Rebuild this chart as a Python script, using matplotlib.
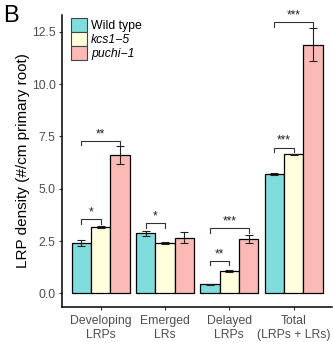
import matplotlib.pyplot as plt
from matplotlib.patches import Patch

plt.rcParams['font.family'] = ['Liberation Sans', 'DejaVu Sans']

# Data
groups = ['Developing\nLRPs', 'Emerged\nLRs', 'Delayed\nLRPs', 'Total\n(LRPs + LRs)']
genotypes = ['Wild type', 'kcs1\u22125', 'puchi\u22121']
wt_mean = [2.40, 2.87, 0.43, 5.71]
wt_err = [0.15, 0.12, 0.02, 0.05]
kcs_mean = [3.16, 2.39, 1.07, 6.65]
kcs_err = [0.05, 0.05, 0.07, 0.03]
puchi_mean = [6.62, 2.66, 2.60, 11.88]
puchi_err = [0.42, 0.25, 0.20, 0.78]
colors = ['#7FDEDD', '#FFFFDD', '#FBBAB6']

# significance brackets: (group, bar a, bar b, height, label)
sig = [
    (0, 0, 1, 3.54, '*'), (0, 0, 2, 7.29, '**'),
    (1, 0, 1, 3.35, '*'),
    (2, 0, 1, 1.56, '**'), (2, 0, 2, 3.11, '***'),
    (3, 0, 1, 6.97, '***'), (3, 0, 2, 12.97, '***'),
]

fig = plt.figure(figsize=(3.33, 3.42), dpi=100)
ax = fig.add_axes([0.186, 0.103, 0.812, 0.853])

width = 0.3
offsets = [-0.3, 0.0, 0.3]
xs = [i + 1 for i in range(len(groups))]
means = [wt_mean, kcs_mean, puchi_mean]
errs = [wt_err, kcs_err, puchi_err]

for k in range(3):
    pos = [x + offsets[k] for x in xs]
    ax.bar(pos, means[k], width=width, color=colors[k], edgecolor='black',
           linewidth=0.9, zorder=2)
    ax.errorbar(pos, means[k], yerr=errs[k], fmt='none', ecolor='#222222',
                elinewidth=0.8, capsize=3, capthick=0.8, zorder=3)

for g, a, b, h, lab in sig:
    x1 = xs[g] + offsets[a]
    x2 = xs[g] + offsets[b]
    ax.plot([x1, x1, x2, x2], [h - 0.22, h, h, h - 0.22], color='#333333',
            linewidth=0.8, zorder=3)
    ax.text((x1 + x2) / 2, h + 0.03, lab, ha='center', va='bottom',
            fontsize=8.5, color='#222222')

ax.set_xlim(0.4, 4.6)
ax.set_ylim(-0.64, 13.3)
ax.set_xticks(xs)
ax.set_xticklabels(groups, fontsize=8.8, color='#4D4D4D', linespacing=1.2)
ax.set_yticks([0, 2.5, 5, 7.5, 10, 12.5])
ax.set_yticklabels(['0.0', '2.5', '5.0', '7.5', '10.0', '12.5'],
                   fontsize=8.8, color='#4D4D4D')
ax.tick_params(axis='both', length=2.5, width=0.8, color='#333333', pad=2)
ax.tick_params(axis='x', pad=3.5)
ax.set_ylabel('LRP density (#/cm primary root)', fontsize=11, labelpad=1)

for s in ['top', 'right']:
    ax.spines[s].set_visible(False)
for s in ['left', 'bottom']:
    ax.spines[s].set_linewidth(1.1)

handles = [Patch(facecolor=c, edgecolor='#444444', linewidth=0.8) for c in colors]
leg = ax.legend(handles, genotypes, loc='upper left', bbox_to_anchor=(0.012, 1.012),
                frameon=False, fontsize=8.8, handlelength=1.3, handleheight=1.4,
                labelspacing=0.0, handletextpad=0.3, borderpad=0)
for t in leg.get_texts()[1:]:
    t.set_fontstyle('italic')

fig.text(0.01, 0.985, 'B', fontsize=17, ha='left', va='top')

fig.savefig('out.png', dpi=100)
